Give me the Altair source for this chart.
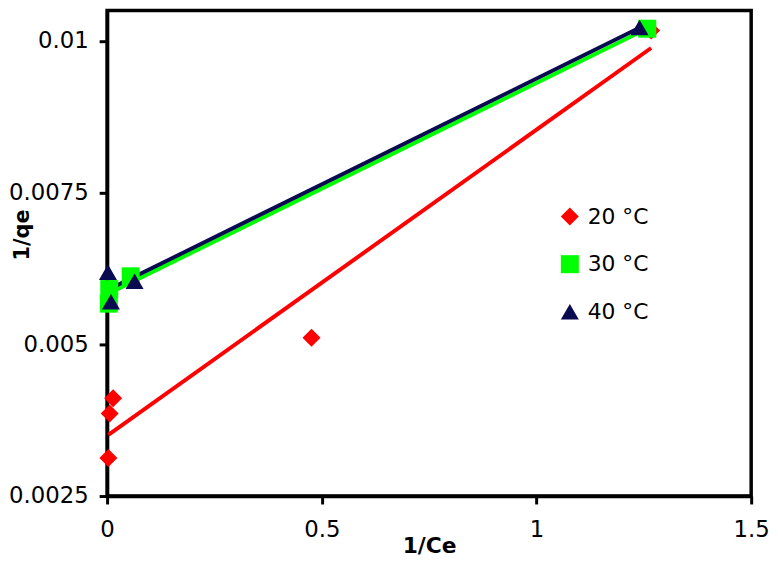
import altair as alt
import pandas as pd

series = ["20 °C", "30 °C", "40 °C"]
x20 = [0.003, 0.006, 0.014, 0.476, 1.267]
y20 = [0.003125, 0.00386, 0.00411, 0.00511, 0.01017]
x30 = [0.004, 0.005, 0.055, 1.258]
y30 = [0.00567, 0.00591, 0.00612, 0.0102]
x40 = [0.002, 0.009, 0.064, 1.24]
y40 = [0.00619, 0.0057, 0.00604, 0.01022]
colors = ["#FF0000", "#00FF00", "#0A0A50"]
shapes = ["diamond", "square", "triangle-up"]
x_ticks = [0, 0.5, 1, 1.5]
y_ticks = [0.0025, 0.005, 0.0075, 0.01]

rows = []
for s, xs, ys in zip(series, [x20, x30, x40], [y20, y30, y40]):
    for a, b in zip(xs, ys):
        rows.append({"series": s, "x": a, "y": b})
df = pd.DataFrame(rows)

FONT = "DejaVu Sans"

xenc = alt.X("x:Q", scale=alt.Scale(domain=[0, 1.5], nice=False),
             axis=alt.Axis(values=x_ticks, format=".2~r", title="1/Ce",
                           labelFlush=False, labelOverlap=False,
                           labelPadding=15, titleY=57, titleBaseline="alphabetic",
                           titleFontSize=22))
yenc = alt.Y("y:Q", scale=alt.Scale(domain=[0.0025, 0.0105], nice=False, zero=False),
             axis=alt.Axis(values=y_ticks, format=".2~r", title="1/qe",
                           labelFlush=False, labelOverlap=False,
                           labelPadding=11, titleX=-79, titleY=226,
                           titleAlign="center", titleBaseline="alphabetic",
                           titleFontSize=21))

cscale = alt.Scale(domain=series, range=colors)
sscale = alt.Scale(domain=series, range=shapes)
leg = alt.Legend(title=None, orient="none", legendX=456, legendY=197,
                 symbolSize=330, labelFontSize=22, labelFont=FONT,
                 rowPadding=26, labelOffset=7, padding=0,
                 symbolStrokeWidth=0, labelColor="black")

base = alt.Chart(df)

lines = base.transform_regression("x", "y", groupby=["series"]).mark_line(
    strokeWidth=4
).encode(
    x=xenc, y=yenc,
    color=alt.Color("series:N", scale=cscale, legend=leg),
)

points = base.mark_point(filled=True, size=330, opacity=1).encode(
    x=xenc, y=yenc,
    color=alt.Color("series:N", scale=cscale, legend=leg),
    shape=alt.Shape("series:N", scale=sscale, legend=leg),
)

chart = alt.layer(lines, points).properties(
    width=650, height=490,
    autosize=alt.AutoSizeParams(type="none"),
    padding={"left": 100, "top": 0, "right": 19, "bottom": 60},
).configure_view(
    stroke="black", strokeWidth=3.5
).configure_axis(
    grid=False, domainColor="black", domainWidth=3.5,
    tickColor="black", tickWidth=3, tickSize=8,
    labelFont=FONT, labelFontSize=23, labelColor="black",
    titleFont=FONT, titleFontWeight="bold", titleColor="black",
)

chart.save("out.html", embed_options={"renderer": "svg", "actions": False})
